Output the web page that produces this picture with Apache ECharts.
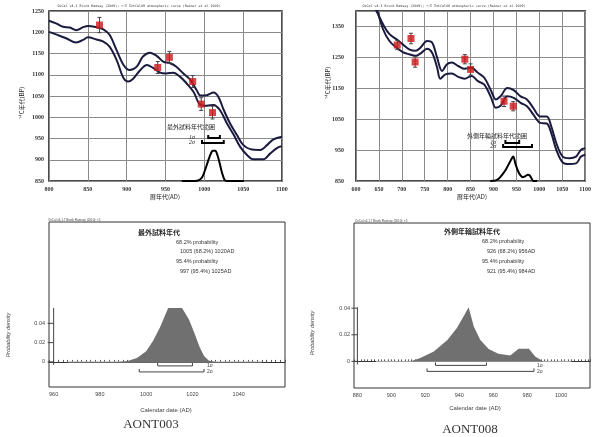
<!DOCTYPE html>
<html><head><meta charset="utf-8">
<script src="https://cdn.jsdelivr.net/npm/echarts@6/dist/echarts.min.js"></script>
<style>html,body{margin:0;padding:0;background:#fff}#c{width:594px;height:437px}</style>
</head><body><div id="c"></div>
<script>
// ---------- AONT003 : calibration curve (top-left) ----------
const curveA_upper = [[800,1227],[809,1221],[818,1213],[827,1211],[835,1205],[844,1212],[850,1215],[861,1212],[870,1207],[878,1194],[887,1158],[896,1123],[904,1111],[913,1119],[921,1143],[930,1152],[939,1144],[947,1131],[956,1127],[964,1119],[973,1103],[982,1088],[990,1064],[995,1051],[1003,1052],[1012,1058],[1018,1048],[1025,1017],[1033,986],[1042,958],[1050,935],[1059,925],[1072,923],[1081,935],[1089,948],[1100,954]];
const curveA_lower = [[800,1201],[809,1195],[822,1186],[835,1176],[844,1182],[850,1188],[861,1183],[870,1178],[878,1166],[887,1135],[896,1092],[902,1084],[908,1090],[917,1110],[926,1123],[934,1116],[943,1105],[951,1103],[960,1105],[969,1095],[977,1080],[986,1060],[995,1029],[1003,1027],[1012,1029],[1020,1017],[1029,986],[1038,958],[1046,931],[1055,911],[1063,901],[1076,901],[1085,915],[1094,928],[1100,932]];
const samplesA = [[865,1217,18],[940,1117,14],[955,1141,14],[985,1084,14],[996,1031,15],[1010.5,1011,15]];
const densTopA = [[971,850],[988,850],[993,852],[997,858],[1001,876],[1005,898],[1009,917],[1011,921],[1014,921],[1017,910],[1020,890],[1023,868],[1026,853],[1029,850],[1051,850]];
const sigmaA = [[1005,1020],[997,1025]];

// ---------- AONT008 : calibration curve (top-right) ----------
const curveB_upper = [[638,1417],[648,1390],[659,1357],[673,1325],[688,1309],[702,1292],[716,1276],[730,1271],[741,1282],[755,1303],[766,1298],[777,1249],[788,1206],[798,1227],[809,1233],[823,1222],[837,1213],[852,1216],[866,1200],[880,1184],[895,1141],[905,1114],[916,1125],[930,1151],[944,1144],[959,1124],[973,1114],[987,1086],[1002,1059],[1016,1059],[1026,1027],[1037,973],[1051,929],[1066,924],[1080,929],[1091,951],[1100,956]];
const curveB_lower = [[645,1412],[659,1341],[673,1303],[688,1282],[702,1267],[716,1260],[730,1255],[741,1263],[755,1278],[766,1265],[777,1217],[784,1181],[795,1195],[809,1198],[823,1187],[837,1181],[852,1190],[866,1173],[880,1162],[895,1119],[905,1087],[916,1094],[930,1124],[944,1119],[959,1103],[973,1092],[987,1065],[1002,1038],[1016,1036],[1026,1005],[1037,951],[1051,910],[1066,905],[1080,907],[1091,929],[1100,935]];
const samplesB = [[690,1290,15],[720,1311,17],[729,1235,17],[837.5,1244,15],[850,1211,18],[923,1108,17],[943,1092,15]];
const densTopB = [[893,850],[905,852],[912,858],[920,872],[928,890],[936,912],[943,929],[948,905],[953,884],[958,870],[964,862],[970,866],[975,870],[979,868],[983,858],[987,850],[995,850]];
const sigmaB = [[926,956],[921,984]];

// ---------- probability density (bottom) ----------
const densA = [[988,0],[992,0.001],[996,0.004],[1000,0.011],[1003,0.022],[1006,0.036],[1009.5,0.056],[1015.5,0.056],[1018.5,0.044],[1021,0.029],[1023,0.016],[1025,0.006],[1027,0.0015],[1030,0]];
const baseA = [[966,0],[1050,0]];
const densB = [[911,0],[917,0.0025],[925,0.0075],[933,0.016],[938.6,0.025],[943.5,0.036],[945.5,0.0407],[948.6,0.026],[952.4,0.016],[957.3,0.0093],[963,0.0058],[970,0.0045],[975,0.0095],[981,0.0095],[984.7,0.0037],[989.6,0]];
const baseB = [[891,0],[1006,0]];

const xTicksC = [960,980,1000,1020,1040];
const xTicksD = [880,900,920,940,960,980,1000];
const yTicksCD = [0,0.02,0.04];
const yTicksTopB = [850,950,1050,1150,1250,1350];

const textsA = ['最外試料年代範囲','最外試料年代','68.2% probability','1005 (68.2%) 1020AD','95.4% probability','997 (95.4%) 1025AD','AONT003'];
const textsB = ['外側年輪試料年代範囲','外側年輪試料年代','68.2% probability','926 (68.2%) 956AD','95.4% probability','921 (95.4%) 984AD','AONT008'];
const headerTop = 'OxCal v4.1 Bronk Ramsey (2009); r:5 IntCal09 atmospheric curve (Reimer et al 2009)';
const headerBottom = 'OxCal v4.1.7 Bronk Ramsey (2010); r:5';

// ---------- styles ----------
const SERIF = '"Liberation Serif","DejaVu Serif",serif';
const SANS = '"Liberation Sans","DejaVu Sans",Arial,sans-serif';
const CJK = '"Noto Sans CJK JP","Noto Sans CJK SC",sans-serif';
const NAVY = '#1b1b3f';
const RED = '#d0181a';

const chart = echarts.init(document.getElementById('c'), null, {renderer:'canvas'});

function near(list, v){ return list.some(t => Math.abs(t - v) < 1e-6); }

function topX(idx, min, max){
  return {gridIndex:idx, type:'value', min, max, interval:50,
    axisLine:{show:false}, axisTick:{show:false},
    splitLine:{show:true, lineStyle:{color:'#8a8a8a', width:1}},
    axisLabel:{fontFamily:SERIF, fontSize:6, fontWeight:'bold', color:'#333', margin:5, formatter: v => String(v)}};
}
function topY(idx, min, max, interval, margin, labels){
  return {gridIndex:idx, type:'value', min, max, interval,
    axisLine:{show:false}, axisTick:{show:false},
    splitLine:{show:true, lineStyle:{color:'#8a8a8a', width:1}},
    axisLabel:{fontFamily:SERIF, fontSize:6, fontWeight:'bold', color:'#333', margin,
      formatter: v => (!labels || near(labels, v)) ? String(v) : ''}};
}
function botX(idx, min, max, ticks){
  return {gridIndex:idx, type:'value', min, max, interval:2,
    axisLine:{show:true, lineStyle:{color:'#333', width:1}},
    axisTick:{show:true, inside:true, length:2, lineStyle:{color:'#555', width:1}},
    splitLine:{show:false},
    axisLabel:{fontFamily:SANS, fontSize:5.5, color:'#444', margin:4,
      formatter: v => near(ticks, v) ? String(Math.round(v)) : ''}};
}
function botY(idx, min, max){
  return {gridIndex:idx, type:'value', min, max, interval:0.002,
    axisLine:{show:false}, axisTick:{show:false}, splitLine:{show:false},
    axisLabel:{fontFamily:SANS, fontSize:5.5, color:'#444', margin:4,
      formatter: v => near(yTicksCD, v) ? (Math.abs(v) < 1e-9 ? '0' : String(+v.toFixed(2))) : ''}};
}

function curve(ax, data){
  return {type:'line', xAxisIndex:ax, yAxisIndex:ax, data, smooth:0.35, showSymbol:false, symbol:'none',
    lineStyle:{color:NAVY, width:2}, z:3, silent:true};
}
function errorBars(ax, data){
  return {type:'custom', xAxisIndex:ax, yAxisIndex:ax, z:4, silent:true,
    data: data.map(d => [d[0], d[1] - d[2], d[1] + d[2]]),
    encode:{x:0, y:[1,2]},
    renderItem(params, api){
      const lo = api.coord([api.value(0), api.value(1)]);
      const hi = api.coord([api.value(0), api.value(2)]);
      const st = {stroke:'#444', lineWidth:1};
      return {type:'group', children:[
        {type:'line', shape:{x1:lo[0], y1:lo[1], x2:hi[0], y2:hi[1]}, style:st},
        {type:'line', shape:{x1:lo[0]-2, y1:lo[1], x2:lo[0]+2, y2:lo[1]}, style:st},
        {type:'line', shape:{x1:hi[0]-2, y1:hi[1], x2:hi[0]+2, y2:hi[1]}, style:st}
      ]};
    }};
}
function squares(ax, data){
  return {type:'scatter', xAxisIndex:ax, yAxisIndex:ax, z:6, silent:true,
    data: data.map(d => [d[0], d[1]]), symbol:'rect', symbolSize:7,
    itemStyle:{color:RED}};
}
// brackets: offsets are pixel offsets from a base value line
function brackets(ax, ranges, baseY, offsets, width, color, labelSide){
  return {type:'custom', xAxisIndex:ax, yAxisIndex:ax, z:5, silent:true,
    data: ranges.map(r => [r[0], r[1], baseY]),
    encode:{x:[0,1], y:2},
    renderItem(params, api){
      const i = params.dataIndex;
      const a = api.coord([api.value(0), api.value(2)]);
      const b = api.coord([api.value(1), api.value(2)]);
      const y = a[1] + offsets[i];
      const t = 3;
      const children = [{type:'polyline', shape:{points:[[a[0], y - t],[a[0], y],[b[0], y],[b[0], y - t]]},
        style:{stroke:color, lineWidth:width, fill:null}}];
      const lab = (i + 1) + 'σ';
      if (labelSide === 'left') {
        const s = api.coord([ranges[1][0], baseY]);
        children.push({type:'text', style:{text:lab, x:s[0]-7, y:y-1, align:'right', verticalAlign:'middle',
          font:'italic 6px ' + SERIF, fill:'#222'}});
      } else {
        const e = api.coord([ranges[1][1], baseY]);
        children.push({type:'text', style:{text:lab, x:e[0]+3, y:y, align:'left', verticalAlign:'middle',
          font:'5px ' + SANS, fill:'#444'}});
      }
      return {type:'group', children};
    }};
}
// short y axis stub with ticks at given values
function yStub(ax, xPos, ticks, topVal){
  return {type:'custom', xAxisIndex:ax, yAxisIndex:ax, z:4, silent:true,
    data: ticks.map(v => [xPos, v]), encode:{x:0, y:1},
    renderItem(params, api){
      const p = api.coord([api.value(0), api.value(1)]);
      const st = {stroke:'#444', lineWidth:1};
      const ch = [{type:'line', shape:{x1:p[0]-6, y1:p[1], x2:p[0], y2:p[1]}, style:st}];
      if (params.dataIndex === 0) {
        const top = api.coord([xPos, topVal]);
        ch.push({type:'line', shape:{x1:p[0], y1:p[1]+3, x2:p[0], y2:top[1]}, style:st});
      }
      return {type:'group', children:ch};
    }};
}

const maxA = Math.max(...densA.map(d => d[1]));
const maxB = Math.max(...densB.map(d => d[1]));

// text element placed at (x,y); optional rotation around that point
function txt(text, x, y, font, align, fill, rot){
  return {type:'text', silent:true, x, y, rotation: rot || 0,
    style:{text, x:0, y:0, font, fill: fill || '#222', textAlign: align || 'left', textVerticalAlign:'middle'}};
}

const option = {
  backgroundColor:'#ffffff',
  animation:false,
  grid:[
    {left:49, top:11, width:233, height:170, show:true, borderColor:'#111', borderWidth:1.5, backgroundColor:'transparent'},
    {left:356, top:11, width:234, height:170, show:true, borderColor:'#111', borderWidth:1.5, backgroundColor:'transparent'},
    {left:49, top:222, width:236, height:165, show:true, borderColor:'#333', borderWidth:1, backgroundColor:'transparent'},
    {left:354, top:223, width:236, height:165, show:true, borderColor:'#333', borderWidth:1, backgroundColor:'transparent'}
  ],
  xAxis:[ topX(0, 800, 1100), topX(1, 600, 1100), botX(2, 958, 1060, xTicksC), botX(3, 878, 1017, xTicksD) ],
  yAxis:[ topY(0, 850, 1250, 50, 5, null), topY(1, 850, 1400, 100, 12, yTicksTopB), botY(2, -0.026, 0.145), botY(3, -0.02, 0.104) ],
  series:[
    curve(0, curveA_upper), curve(0, curveA_lower),
    errorBars(0, samplesA), squares(0, samplesA),
    {type:'line', xAxisIndex:0, yAxisIndex:0, data:densTopA, smooth:0.3, symbol:'none', lineStyle:{color:'#000', width:2}, z:4, silent:true},
    brackets(0, sigmaA, 850, [-43, -38], 2, '#000', 'left'),

    curve(1, curveB_upper), curve(1, curveB_lower),
    errorBars(1, samplesB), squares(1, samplesB),
    {type:'line', xAxisIndex:1, yAxisIndex:1, data:densTopB, smooth:0.3, symbol:'none', lineStyle:{color:'#000', width:2}, z:4, silent:true},
    brackets(1, sigmaB, 850, [-38, -34], 2, '#000', 'left'),

    {type:'line', xAxisIndex:2, yAxisIndex:2, data:baseA, symbol:'none', lineStyle:{color:'#b5b5b5', width:1}, z:2, silent:true},
    {type:'line', xAxisIndex:2, yAxisIndex:2, data:densA, symbol:'none', lineStyle:{width:0}, areaStyle:{color:'#707070', opacity:1}, z:3, silent:true},
    brackets(2, sigmaA, 0, [4, 10], 1, '#444', 'right'),
    yStub(2, xTicksC[0], yTicksCD, maxA),

    {type:'line', xAxisIndex:3, yAxisIndex:3, data:baseB, symbol:'none', lineStyle:{color:'#b5b5b5', width:1}, z:2, silent:true},
    {type:'line', xAxisIndex:3, yAxisIndex:3, data:densB, symbol:'none', lineStyle:{width:0}, areaStyle:{color:'#707070', opacity:1}, z:3, silent:true},
    brackets(3, sigmaB, 0, [4, 10], 1, '#444', 'right'),
    yStub(3, xTicksD[0], yTicksCD, maxB)
  ],
  graphic:[
    txt(headerTop, 139, 6, '3.3px "DejaVu Sans Mono",monospace', 'center', '#333'),
    txt(headerTop, 444, 6, '3.3px "DejaVu Sans Mono",monospace', 'center', '#333'),
    txt('¹⁴C年代(BP)', 22, 103, '6px ' + CJK, 'center', '#222', Math.PI/2),
    txt('¹⁴C年代(BP)', 328, 83, '6px ' + CJK, 'center', '#222', Math.PI/2),
    txt('暦年代(AD)', 165, 197, '6px ' + CJK, 'center'),
    txt('暦年代(AD)', 472, 197, '6px ' + CJK, 'center'),
    txt(textsA[0], 191, 127, '6px ' + CJK, 'center'),
    txt(textsB[0], 497, 136, '6px ' + CJK, 'center'),

    txt(headerBottom, 48, 220, '3px ' + SANS, 'left', '#444'),
    txt(headerBottom, 355, 221, '3px ' + SANS, 'left', '#444'),

    txt(textsA[1], 159, 232, 'bold 7px ' + CJK, 'center'),
    txt(textsA[2], 176, 242, '5.5px ' + SANS, 'left', '#333'),
    txt(textsA[3], 180, 251, '5.5px ' + SANS, 'left', '#333'),
    txt(textsA[4], 176, 261, '5.5px ' + SANS, 'left', '#333'),
    txt(textsA[5], 180, 271, '5.5px ' + SANS, 'left', '#333'),

    txt(textsB[1], 472, 231, 'bold 7px ' + CJK, 'center'),
    txt(textsB[2], 482, 241, '5.5px ' + SANS, 'left', '#333'),
    txt(textsB[3], 487, 251, '5.5px ' + SANS, 'left', '#333'),
    txt(textsB[4], 482, 261, '5.5px ' + SANS, 'left', '#333'),
    txt(textsB[5], 487, 271, '5.5px ' + SANS, 'left', '#333'),

    txt('Probability density', 8, 335, 'italic 5.5px ' + SANS, 'center', '#444', Math.PI/2),
    txt('Probability density', 312, 333, 'italic 5.5px ' + SANS, 'center', '#444', Math.PI/2),
    txt('Calendar date (AD)', 166, 410, '6px ' + SANS, 'center', '#444'),
    txt('Calendar date (AD)', 475, 408, '6px ' + SANS, 'center', '#444'),
    txt(textsA[6], 151, 425, '13px ' + SERIF, 'center', '#333'),
    txt(textsB[6], 470, 430, '13px ' + SERIF, 'center', '#333')
  ]
};
chart.setOption(option);
</script>
</body></html>
